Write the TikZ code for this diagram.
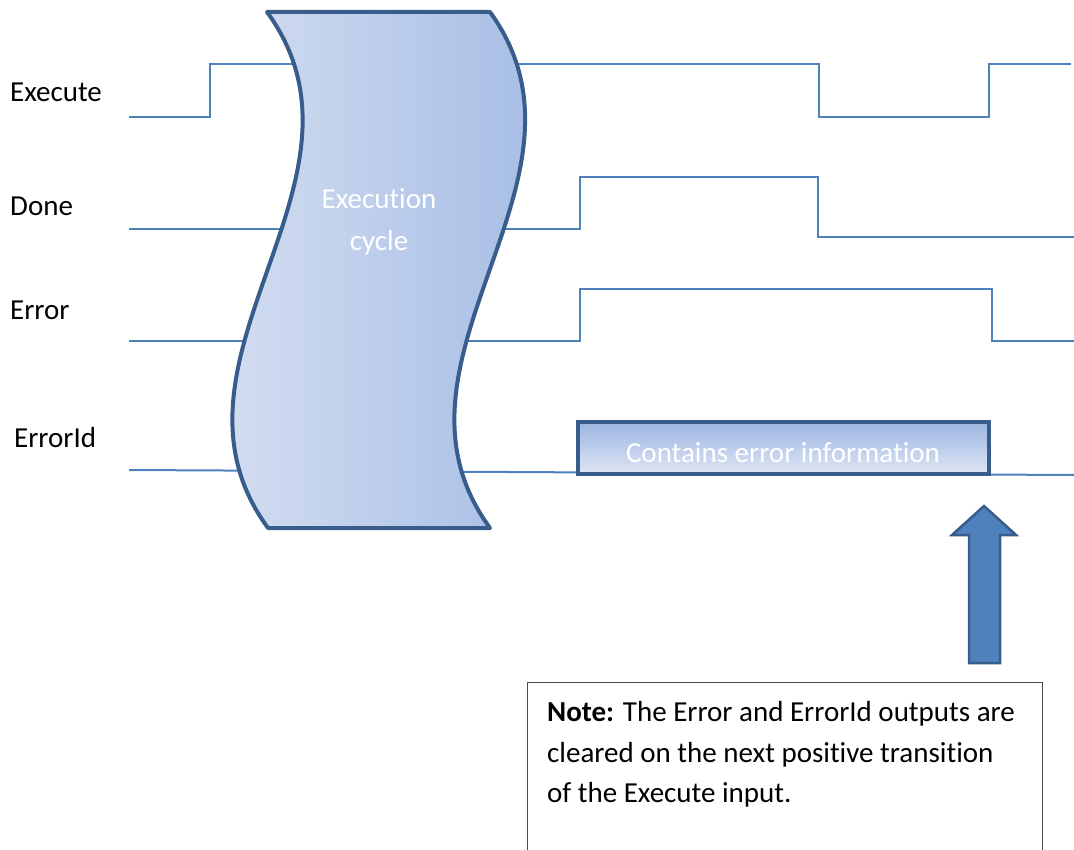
\documentclass[tikz,border=0pt]{standalone}
\usepackage{fontspec}
\setmainfont{Carlito}[Ligatures=NoCommon]
\definecolor{sig}{HTML}{4F81BD}
\definecolor{edge}{HTML}{385D8A}
\definecolor{lightfill}{RGB}{222,229,244}
\definecolor{darkfill}{RGB}{156,182,226}
\begin{document}
\begin{tikzpicture}[x=1pt,y=-1pt,
  signal/.style={draw=sig, line width=2pt},
  lbl/.style={anchor=base west, inner sep=0pt, font=\fontsize{29}{34}\selectfont},
  wtext/.style={text=white, inner sep=0pt, font=\fontsize{29}{34}\selectfont},
  notetxt/.style={anchor=base west, inner sep=0pt, font=\fontsize{29}{34}\selectfont}]
\useasboundingbox (0,0) rectangle (1074,850);

% labels
\node[lbl] (lexec) at (10,102) {Execute};
\node[lbl] (ldone) at (10,216) {Done};
\node[lbl] (lerr) at (10,320) {Error};
\node[lbl] (lerrid) at (14,447) {ErrorId};

% signal lines
\draw[signal] (129,117) -- (210,117) -- (210,64) -- (819,64) -- (819,117) -- (989,117) -- (989,64) -- (1071,64);
\draw[signal] (129,229) -- (580,229) -- (580,177) -- (818,177) -- (818,237) -- (1074,237);
\draw[signal] (129,341) -- (580,341) -- (580,289) -- (992,289) -- (992,341) -- (1074,341);
\draw[signal] (129,470) -- (1074,475);

% execution cycle shape
\path[draw=edge, line width=4pt, line join=round, left color=lightfill, right color=darkfill]
  (267,12) -- (490,12)
  .. controls (612,180) and (367,360) .. (490,528)
  -- (268,528)
  .. controls (145,360) and (390,180) .. (267,12) -- cycle;
\node[wtext, align=center, font=\fontsize{29}{42}\selectfont] (cyc) at (379,222) {Execution\\cycle};

% error info box
\node[draw=edge, line width=4pt, top color=darkfill, bottom color=lightfill,
      minimum width=411pt, minimum height=52pt, anchor=north west, inner sep=0pt, outer sep=0pt] (errbox) at (578,422) {};
\node[wtext] (errtxt) at (783,453) {Contains error information};

% up arrow
\path[draw=edge, line width=2.5pt, fill=sig, line join=miter]
  (984,506) -- (1016,535) -- (1000,535) -- (1000,663) -- (969,663) -- (969,535) -- (952,535) -- cycle;

% note box
\node[draw=black!70, line width=1pt, minimum width=515pt, minimum height=168pt, anchor=north west, inner sep=0pt, outer sep=0pt] (note) at (527,682) {};
\node[notetxt] (n1) at (547,721) {\textbf{Note:} The Error and ErrorId outputs are};
\node[notetxt] (n2) at (547,762) {cleared on the next positive transition};
\node[notetxt] (n3) at (547,802) {of the Execute input.};
\end{tikzpicture}
\end{document}
